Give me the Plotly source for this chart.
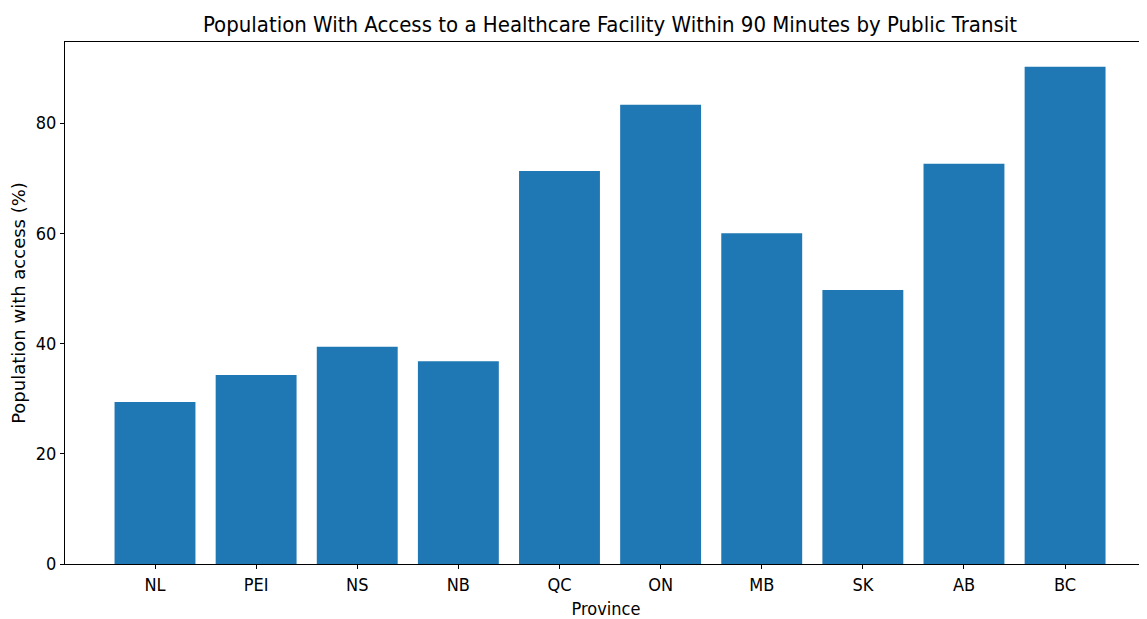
import plotly.graph_objects as go

provinces = ["NL", "PEI", "NS", "NB", "QC", "ON", "MB", "SK", "AB", "BC"]
access_pct = [29.4, 34.3, 39.4, 36.8, 71.3, 83.3, 60.0, 49.7, 72.6, 90.2]
y_ticks = [0, 20, 40, 60, 80]

font_c = "DejaVu Sans Condensed, DejaVu Sans, sans-serif"

fig = go.Figure(go.Bar(
    x=list(range(len(provinces))), y=access_pct,
    marker=dict(color="#1f77b4", line=dict(width=0)),
    width=0.8,
))

# page body has an 8px margin; figure sized to fit the 1147x619 window
W, H = 1139, 611
fig.update_layout(
    width=W, height=H,
    margin=dict(l=57, r=0, t=34, b=55),
    plot_bgcolor="white", paper_bgcolor="white",
    showlegend=False,
    title=dict(text="Population With Access to a Healthcare Facility Within 90 Minutes by Public Transit",
               x=602/W, xanchor="center", y=1-16/H, yanchor="middle",
               font=dict(family=font_c, size=22, color="black")),
    xaxis=dict(
        range=[-0.89, 9.81],
        tickmode="array", tickvals=list(range(len(provinces))), ticktext=provinces,
        showgrid=False, zeroline=False,
        showline=True, linecolor="black", linewidth=1, mirror=True,
        ticks="outside", ticklen=4, tickcolor="black",
        tickfont=dict(family=font_c, size=18, color="black"),
        title=dict(text="Province", font=dict(family=font_c, size=18, color="black"), standoff=10),
    ),
    yaxis=dict(
        range=[0, 94.7],
        tickmode="array", tickvals=y_ticks,
        showgrid=False, zeroline=False,
        showline=True, linecolor="black", linewidth=1,
        ticks="outside", ticklen=4, tickcolor="black",
        tickfont=dict(family=font_c, size=18, color="black"),
        title=dict(text="Population with access (%)", font=dict(family="DejaVu Sans, sans-serif", size=18, color="black"), standoff=10),
    ),
)

fig.write_html("out.html")
